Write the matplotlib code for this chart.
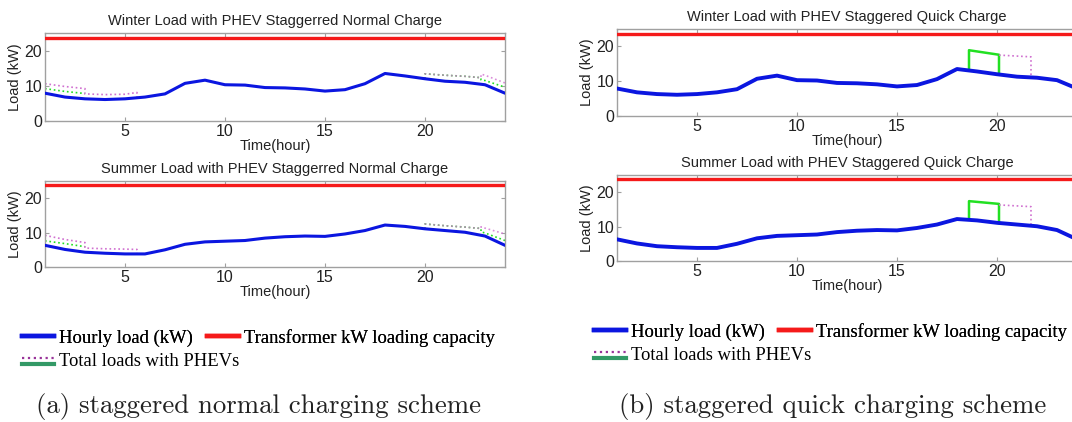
import matplotlib
matplotlib.use("Agg")
import matplotlib.pyplot as plt
from matplotlib.lines import Line2D
from matplotlib.legend_handler import HandlerBase
import numpy as np

# ---------------- data ----------------
hours = list(range(1, 25))
winter_load = [7.9, 6.8, 6.3, 6.1, 6.3, 6.8, 7.7, 10.7, 11.6, 10.3, 10.2, 9.5,
               9.4, 9.1, 8.5, 8.9, 10.6, 13.5, 12.8, 12.0, 11.3, 11.0, 10.3, 7.9]
summer_load = [6.3, 5.1, 4.3, 4.0, 3.8, 3.8, 5.0, 6.6, 7.3, 7.5, 7.7, 8.4,
               8.8, 9.0, 8.9, 9.6, 10.6, 12.2, 11.8, 11.1, 10.6, 10.1, 9.0, 6.3]
capacity = 23.7

# staggered normal charge – winter
wn_pink_am_x = [1, 2, 3, 3, 4, 5, 5.6, 5.6]
wn_pink_am_y = [10.6, 9.8, 9.2, 7.7, 7.5, 7.6, 8.1, 6.7]
wn_green_am_x = [1, 2, 3]
wn_green_am_y = [9.2, 8.4, 7.8]
wn_pink_pm_x = [20, 20, 21, 22, 22.8, 22.8, 23, 24]
wn_pink_pm_y = [12.0, 13.4, 13.0, 12.7, 12.3, 13.3, 13.0, 10.8]
wn_green_pm_x = [20, 20, 21, 22, 22.8, 22.8, 23, 24]
wn_green_pm_y = [12.0, 13.4, 13.0, 12.7, 12.3, 11.7, 11.5, 9.6]

# staggered normal charge – summer
sn_pink_am_x = [1, 2, 3, 3, 4, 5, 5.6, 5.6]
sn_pink_am_y = [9.2, 8.0, 7.1, 5.5, 5.3, 5.2, 5.1, 3.8]
sn_green_am_x = [1, 2, 3]
sn_green_am_y = [7.6, 6.8, 5.9]
sn_pink_pm_x = [20, 20, 21, 22, 22.8, 22.8, 23, 24]
sn_pink_pm_y = [11.1, 12.5, 12.0, 11.6, 11.2, 11.7, 11.3, 9.6]
sn_green_pm_x = [20, 20, 21, 22, 22.8, 22.8, 23, 24]
sn_green_pm_y = [11.1, 12.5, 12.0, 11.6, 11.2, 10.2, 9.9, 7.7]

# staggered quick charge
wq_green_x = [18.6, 18.6, 20.1, 20.1]
wq_green_y = [13.3, 18.9, 17.6, 12.0]
wq_pink_x = [20.1, 21.7, 21.7]
wq_pink_y = [17.5, 17.0, 11.3]
sq_green_x = [18.6, 18.6, 20.1, 20.1]
sq_green_y = [12.1, 17.4, 16.6, 11.0]
sq_pink_x = [20.1, 21.7, 21.7]
sq_pink_y = [16.3, 15.8, 10.5]

titles = ["Winter Load with PHEV Staggerred Normal Charge",
          "Summer Load with PHEV Staggerred Normal Charge",
          "Winter Load with PHEV Staggered Quick Charge",
          "Summer Load with PHEV Staggered Quick Charge"]
captions = ["(a) staggered normal charging scheme",
            "(b) staggered quick charging scheme"]
legend_labels = ["Hourly load (kW)", "Transformer kW loading capacity",
                 "Total loads with PHEVs"]

# ---------------- style ----------------
BLUE = "#0b16e0"
RED = "#f51a1a"
GREEN = "#22e022"
PINK = "#d070d0"
SPINE = "#a0a0a0"
SANS = "Liberation Sans"

W, H = 1072, 422
fig = plt.figure(figsize=(W / 100, H / 100), dpi=100)


def ax_at(x0, y0, x1, y1):
    return fig.add_axes([x0 / W, 1 - y1 / H, (x1 - x0) / W, (y1 - y0) / H])


def style(ax, title, lw_blue, load):
    ax.plot(hours, load, color=BLUE, lw=lw_blue, zorder=3, solid_capstyle="round")
    ax.axhline(capacity, color=RED, lw=2.4, zorder=4)
    ax.set_xlim(1, 24)
    ax.set_ylim(0, 25)
    ax.set_xticks([5, 10, 15, 20])
    ax.set_yticks([0, 10, 20])
    ax.tick_params(direction="in", top=True, right=True, length=3,
                   color=SPINE, labelsize=11.5, pad=2, labelcolor="#222222")
    for s in ax.spines.values():
        s.set_color(SPINE)
        s.set_linewidth(1.0)
    ax.set_title(title, fontsize=10.5, family=SANS, color="#222222", pad=6)
    ax.set_xlabel("Time(hour)", fontsize=10.5, family=SANS, labelpad=0, color="#222222")
    ax.set_ylabel("Load (kW)", fontsize=10.5, family=SANS, labelpad=2, color="#222222")
    for lab in ax.get_xticklabels() + ax.get_yticklabels():
        lab.set_family(SANS)


# left – normal charge
ax1 = ax_at(45, 33, 505, 121)
style(ax1, titles[0], 2.2, winter_load)
ax1.plot(wn_green_am_x, wn_green_am_y, ls=":", color=GREEN, lw=1.2, zorder=2)
ax1.plot(wn_pink_am_x, wn_pink_am_y, ls=":", color=PINK, lw=1.2, zorder=2)
ax1.plot(wn_green_pm_x, wn_green_pm_y, ls=":", color=GREEN, lw=1.2, zorder=2)
ax1.plot(wn_pink_pm_x, wn_pink_pm_y, ls=":", color=PINK, lw=1.2, zorder=2, alpha=0.8)

ax2 = ax_at(45, 181, 505, 267)
style(ax2, titles[1], 2.2, summer_load)
ax2.plot(sn_green_am_x, sn_green_am_y, ls=":", color=GREEN, lw=1.2, zorder=2)
ax2.plot(sn_pink_am_x, sn_pink_am_y, ls=":", color=PINK, lw=1.2, zorder=2)
ax2.plot(sn_green_pm_x, sn_green_pm_y, ls=":", color=GREEN, lw=1.2, zorder=2)
ax2.plot(sn_pink_pm_x, sn_pink_pm_y, ls=":", color=PINK, lw=1.2, zorder=2, alpha=0.8)

# right – quick charge (axes run past the image edge, as in the reference)
ax3 = ax_at(617, 29, 1077, 116)
style(ax3, titles[2], 2.8, winter_load)
ax3.plot(wq_green_x, wq_green_y, color=GREEN, lw=1.8, zorder=2)
ax3.plot(wq_pink_x, wq_pink_y, ls=":", color=PINK, lw=1.2, zorder=2)

ax4 = ax_at(617, 175, 1077, 261)
style(ax4, titles[3], 2.8, summer_load)
ax4.plot(sq_green_x, sq_green_y, color=GREEN, lw=1.8, zorder=2)
ax4.plot(sq_pink_x, sq_pink_y, ls=":", color=PINK, lw=1.2, zorder=2)


# ---------------- legends ----------------
class StackedHandler(HandlerBase):
    def create_artists(self, legend, orig_handle, xdescent, ydescent,
                       width, height, fontsize, trans):
        top, bottom = orig_handle
        y_top = 0.55 * height - ydescent
        y_bot = y_top - 4.0
        l1 = Line2D([-xdescent, width - xdescent], [y_top, y_top],
                    color=top.get_color(), ls=top.get_linestyle(), lw=top.get_linewidth())
        l2 = Line2D([-xdescent, width - xdescent], [y_bot, y_bot],
                    color=bottom.get_color(), ls=bottom.get_linestyle(), lw=bottom.get_linewidth())
        l1.set_transform(trans)
        l2.set_transform(trans)
        return [l1, l2]


h_blue = Line2D([], [], color=BLUE, lw=3.2)
h_red = Line2D([], [], color=RED, lw=3.2)
h_tot = (Line2D([], [], color="#993399", ls=":", lw=1.6),
         Line2D([], [], color="#339966", lw=3.0))

leg_kw = dict(loc="center left", frameon=False, borderpad=0, borderaxespad=0,
              handlelength=1.7, handletextpad=0.3, columnspacing=0.75,
              prop={"family": "Liberation Serif", "size": 13.4},
              handler_map={tuple: StackedHandler()})

for (x0, y_row1, y_row2) in [(22, 338, 361), (594, 332, 355)]:
    lg1 = fig.legend([h_blue, h_red], legend_labels[:2], ncol=2,
                     bbox_to_anchor=(x0 / W, 1 - y_row1 / H), **leg_kw)
    fig.add_artist(lg1)
    fig.legend([h_tot], legend_labels[2:], ncol=1,
               bbox_to_anchor=(x0 / W, 1 - y_row2 / H), **leg_kw)

# ---------------- captions ----------------
fig.text(258 / W, 1 - 406 / H, captions[0], family="cmr10", fontsize=19.3,
         ha="center", va="center", color="#222222")
fig.text(833 / W, 1 - 406 / H, captions[1], family="cmr10", fontsize=19.3,
         ha="center", va="center", color="#222222")

fig.savefig("out.png", dpi=100)
